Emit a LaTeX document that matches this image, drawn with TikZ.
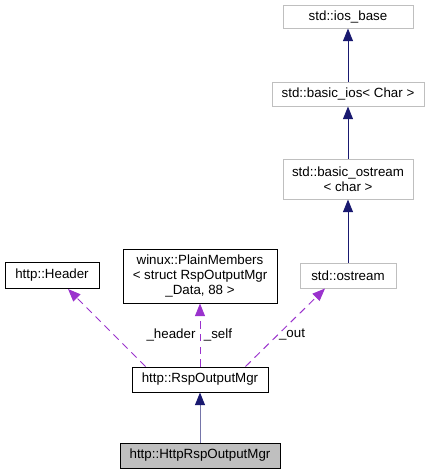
\documentclass[tikz,border=0pt]{standalone}
\usepackage{fontspec}
\setmainfont{Liberation Sans}
\usetikzlibrary{arrows.meta,calc}
\definecolor{midnight}{HTML}{191970}
\definecolor{orchid}{HTML}{9A32CD}
\definecolor{boxgrey}{HTML}{BFBFBF}
\begin{document}
\begin{tikzpicture}[x=0.75pt,y=-0.75pt,
    font=\fontsize{10}{11.5}\selectfont,
    cls/.style={draw=black,line width=0.75pt,inner sep=0pt,align=center,fill=white},
    ext/.style={draw=boxgrey,line width=0.75pt,inner sep=0pt,align=center,fill=white},
    inherit/.style={draw=midnight,line width=0.75pt,-{Triangle[length=9.5pt,width=7.5pt,color=midnight,fill=midnight]}},
    usage/.style={draw=orchid,line width=0.75pt,dash pattern=on 5.5pt off 4pt,-{Triangle[length=9.5pt,width=7.5pt,fill=orchid]}}]
            \useasboundingbox (0,0) rectangle (432,475);
            \node[ext,minimum width=97.5pt,minimum height=17.25pt] (iosbase) at (348,16.5){std::ios\_base};
            \node[ext,minimum width=114pt,minimum height=18pt] (basicios) at (348,94){std::basic\_ios< Char >};
            \node[ext,minimum width=97.5pt,minimum height=30pt] (basicostream) at (348,179){std::basic\_ostream\\< char >};
            \node[ext,minimum width=72pt,minimum height=18.75pt] (ostream) at (348,275.5){std::ostream};
            \node[cls,minimum width=70.5pt,minimum height=19.5pt] (header) at (52,275.5){http::Header};
            \node[cls,minimum width=115.5pt,minimum height=40.5pt] (plain) at (200,276){winux::PlainMembers\\< struct RspOutputMgr\\\_Data, 88 >};
            \node[cls,minimum width=102pt,minimum height=18.75pt] (rsp) at (200,379.5){http::RspOutputMgr};
            \node[cls,fill=boxgrey,minimum width=120pt,minimum height=18.75pt] (httprsp) at (200,455.5){http::HttpRspOutputMgr};

            \draw[inherit] (basicios) -- (iosbase);
            \draw[inherit] (basicostream) -- (basicios);
            \draw[inherit] (ostream) -- (basicostream);
            \draw[inherit,draw=midnight!60] (httprsp) -- (rsp);

            \draw[usage] ($(rsp.north west)+(14,0)$) -- ($(header.south)+(16,0)$);
            \draw[usage] (rsp.north) -- (plain.south);
            \draw[usage] ($(rsp.north east)+(-23,0)$) -- ($(ostream.south)+(-23,0)$);

            \node (lheader) at (171,335){\_header};
            \node (lself) at (218,335){\_self};
            \node (lout) at (292,335){\_out};
        \end{tikzpicture}
\end{document}
